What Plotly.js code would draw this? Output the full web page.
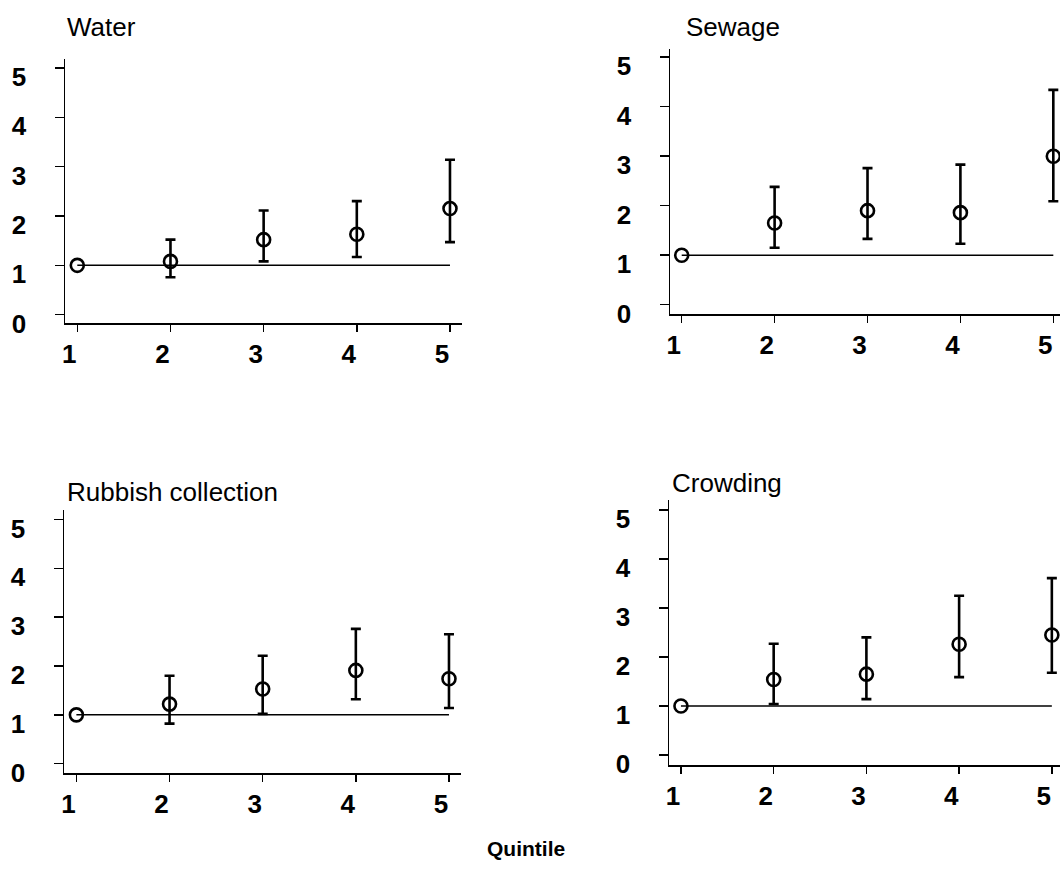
<!DOCTYPE html>
<html>
<head>
<meta charset="utf-8">
<script src="https://cdn.plot.ly/plotly-3.0.1.min.js"></script>
<style>
html,body{margin:0;padding:0;background:#fff;}
#chart{width:1060px;height:878px;}
</style>
</head>
<body>
<div id="chart"></div>
<script>
// ---------- data ----------
var quintiles = [1, 2, 3, 4, 5];
var panelTitles = ["Water", "Sewage", "Rubbish collection", "Crowding"];
var xTickLabels = ["1", "2", "3", "4", "5"];
var yTickValues = [0, 1, 2, 3, 4, 5];
var referenceValue = 1;

var waterOR   = [1, 1.08, 1.52, 1.63, 2.15];
var waterLow  = [null, 0.76, 1.08, 1.17, 1.47];
var waterHigh = [null, 1.52, 2.11, 2.30, 3.14];

var sewageOR   = [1, 1.65, 1.90, 1.86, 3.00];
var sewageLow  = [null, 1.15, 1.33, 1.23, 2.09];
var sewageHigh = [null, 2.38, 2.76, 2.83, 4.34];

var rubbishOR   = [1, 1.22, 1.53, 1.91, 1.74];
var rubbishLow  = [null, 0.82, 1.02, 1.32, 1.14];
var rubbishHigh = [null, 1.80, 2.21, 2.76, 2.65];

var crowdingOR   = [1, 1.54, 1.65, 2.26, 2.45];
var crowdingLow  = [null, 1.04, 1.14, 1.59, 1.68];
var crowdingHigh = [null, 2.27, 2.40, 3.25, 3.61];

var xAxisTitle = "Quintile";

// ---------- layout helpers ----------
var W = 1060, H = 878;
function px(x) { return x / W; }
function py(y) { return 1 - y / H; }

var series = [
  {or: waterOR, lo: waterLow, hi: waterHigh},
  {or: sewageOR, lo: sewageLow, hi: sewageHigh},
  {or: rubbishOR, lo: rubbishLow, hi: rubbishHigh},
  {or: crowdingOR, lo: crowdingLow, hi: crowdingHigh}
];

// pixel boxes of each panel: [left, right, top, bottom], with axis ranges
var panels = [
  {box: [65, 462, 59, 323], xr: [0.868, 5.129], yr: [-0.168, 5.18], title: [65, 27]},
  {box: [670, 1060, 49, 314], xr: [0.874, 5.072], yr: [-0.188, 5.166], title: [684, 27]},
  {box: [64, 461, 510, 773], xr: [0.867, 5.129], yr: [-0.19, 5.194], title: [65, 492]},
  {box: [669, 1060, 500, 765], xr: [0.871, 5.088], yr: [-0.204, 5.204], title: [670, 483]}
];

var FONT = "Liberation Sans, Arial, Helvetica, sans-serif";
var traces = [];
var layout = {
  width: W, height: H,
  margin: {l: 0, r: 0, t: 0, b: 0},
  paper_bgcolor: "#fff", plot_bgcolor: "#fff",
  showlegend: false,
  font: {family: FONT, color: "#000"},
  annotations: []
};

panels.forEach(function (p, i) {
  var n = i === 0 ? "" : String(i + 1);
  var s = series[i];
  var up = s.hi.map(function (h, k) { return h == null ? NaN : h - s.or[k]; });
  var dn = s.lo.map(function (l, k) { return l == null ? NaN : s.or[k] - l; });

  // reference line at OR = 1
  traces.push({
    type: "scatter", mode: "lines",
    x: [quintiles[0], quintiles[quintiles.length - 1]],
    y: [referenceValue, referenceValue],
    xaxis: "x" + n, yaxis: "y" + n,
    line: {color: "#000", width: 1.5},
    hoverinfo: "skip"
  });
  // odds ratios with CI
  traces.push({
    type: "scatter", mode: "markers",
    x: quintiles, y: s.or,
    xaxis: "x" + n, yaxis: "y" + n,
    marker: {symbol: "circle-open", size: 13, color: "#000", line: {width: 2.6, color: "#000"}},
    error_y: {type: "data", symmetric: false, array: up, arrayminus: dn,
              color: "#000", thickness: 2.6, width: 5}
  });

  var b = p.box;
  layout["xaxis" + n] = {
    domain: [px(b[0]), px(b[1])], range: p.xr, anchor: "y" + n,
    showgrid: false, zeroline: false, showline: true, linecolor: "#000", linewidth: 1.5,
    ticks: "outside", ticklen: 7, tickwidth: 1.5, tickcolor: "#000",
    tickvals: quintiles, ticktext: xTickLabels,
    tickfont: {family: FONT, size: 26, color: "#000", weight: "bold"},
    ticklabelshift: -8, ticklabelstandoff: 0
  };
  layout["yaxis" + n] = {
    domain: [py(b[3]), py(b[2])], range: p.yr, anchor: "x" + n,
    showgrid: false, zeroline: false, showline: true, linecolor: "#000", linewidth: 1.5,
    ticks: "outside", ticklen: 9, tickwidth: 1.5, tickcolor: "#000",
    tickvals: yTickValues,
    tickfont: {family: FONT, size: 26, color: "#000", weight: "bold"},
    ticklabelshift: 9, ticklabelstandoff: 23
  };
  layout.annotations.push({
    xref: "paper", yref: "paper", x: px(p.title[0]), y: py(p.title[1]),
    xanchor: "left", yanchor: "middle", showarrow: false,
    text: panelTitles[i], font: {family: FONT, size: 26, color: "#000"}
  });
});

layout.annotations.push({
  xref: "paper", yref: "paper", x: px(526), y: py(848),
  xanchor: "center", yanchor: "middle", showarrow: false,
  text: xAxisTitle, font: {family: FONT, size: 21, color: "#000", weight: "bold"}
});

Plotly.newPlot("chart", traces, layout, {staticPlot: true, displayModeBar: false});
</script>
</body>
</html>
